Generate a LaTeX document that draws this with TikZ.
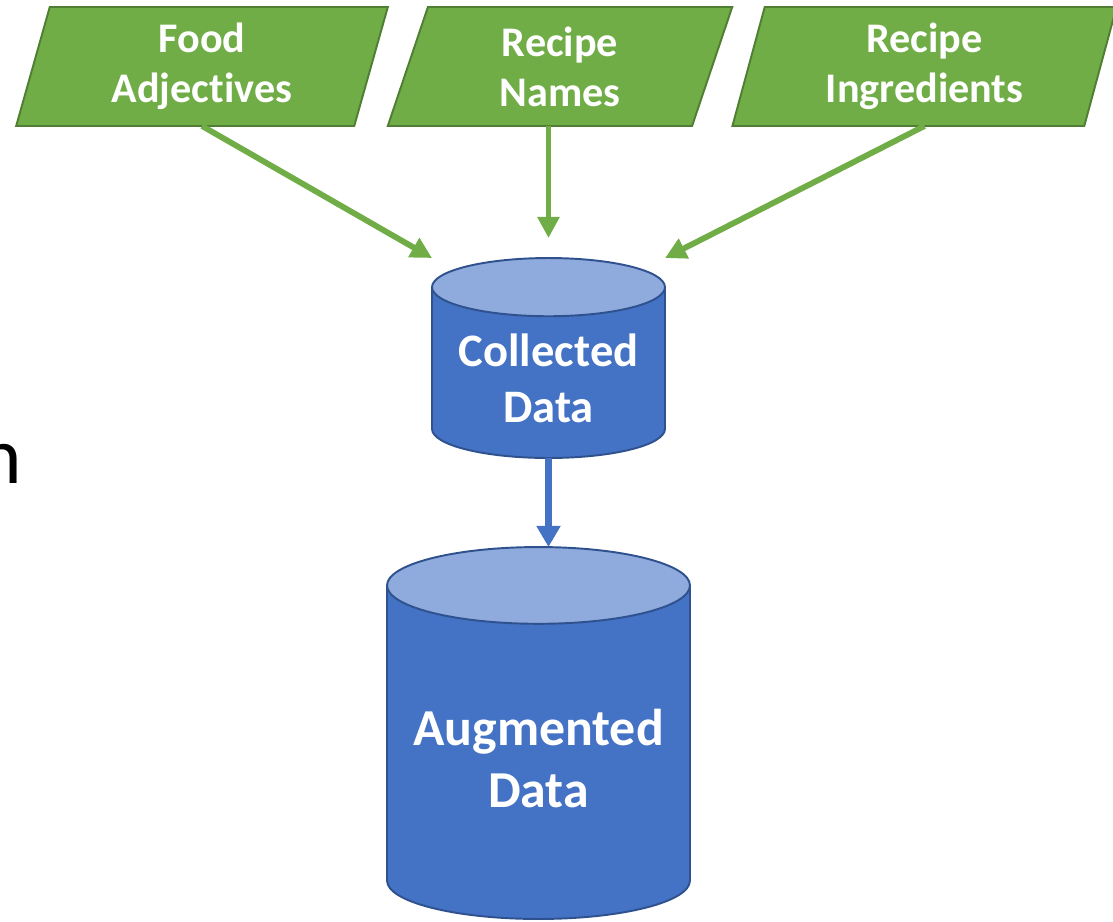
\documentclass[tikz,border=0pt]{standalone}
\usepackage{fontspec}
\setmainfont{Carlito}[Ligatures={NoCommon,NoRare,NoContextual,NoHistoric},Contextuals=NoAlternate]
\usetikzlibrary{shapes.geometric,arrows.meta,positioning,calc}
\definecolor{inputgreen}{HTML}{70AD47}
\definecolor{inputedge}{HTML}{507E32}
\definecolor{dbblue}{HTML}{4472C4}
\definecolor{dbtop}{HTML}{8FAADC}
\definecolor{dbedge}{HTML}{2F528F}

\begin{document}
\begin{tikzpicture}[x=0.02cm, y=-0.02cm, font=\bfseries,
  inbox/.style={trapezium, trapezium left angle=77, trapezium right angle=103,
    trapezium stretches=true, draw=inputedge, line width=1.1pt, fill=inputgreen,
    text=white, align=center, minimum height=2.38cm, inner sep=0pt, outer sep=0pt,
    font=\bfseries\fontsize{24}{28.3}\selectfont},
  dbshape/.style={cylinder, shape border rotate=90, draw=dbedge, line width=1.1pt,
    cylinder uses custom fill, cylinder body fill=dbblue, cylinder end fill=dbtop,
    text=white, align=center, inner sep=4pt, outer sep=0pt, anchor=shape center},
  feed/.style={-{Triangle[length=12pt,width=12pt]}, line width=3.3pt, inputgreen},
  flow/.style={-{Triangle[length=12pt,width=13pt]}, line width=4pt, dbblue}]
  \useasboundingbox (0,0) rectangle (1113,921);

  % data sources
  \node[inbox, minimum width=7.44cm] (food) at (202,66.5) {Food\\Adjec\kern0.3pt tives};
  \node[inbox, minimum width=6.92cm] (names) at (560,66.5) {Recipe\\Names};
  \node[inbox, minimum width=7.7cm] (ingr) at (924.5,66.5) {Recipe\\Ingredients};

  % stores
  \node[dbshape, minimum width=4.66cm, minimum height=4cm, aspect=0.3,
    font=\bfseries\fontsize{26.5}{31.7}\selectfont] (coll) at (548.5,358) {Collec\kern0.3pt ted\\Data};
  \node[dbshape, minimum width=6.06cm, minimum height=7.44cm, aspect=0.29,
    font=\bfseries\fontsize{29.5}{35.7}\selectfont] (aug) at (538.5,733) {Augmented\\Data};

  \node[anchor=base east, inner sep=0pt, font=\mdseries\fontsize{46}{50}\selectfont] (cut) at (22,483) {n};

  \draw[feed] (food.south) -- (coll.west |- coll.north);
  \draw[feed, shorten >=0.4cm] (coll.north |- names.south) -- (coll.north);
  \draw[feed] (ingr.south) -- (coll.east |- coll.north);
  \draw[flow] (coll.south) -- (coll.south |- aug.north);
\end{tikzpicture}
\end{document}
